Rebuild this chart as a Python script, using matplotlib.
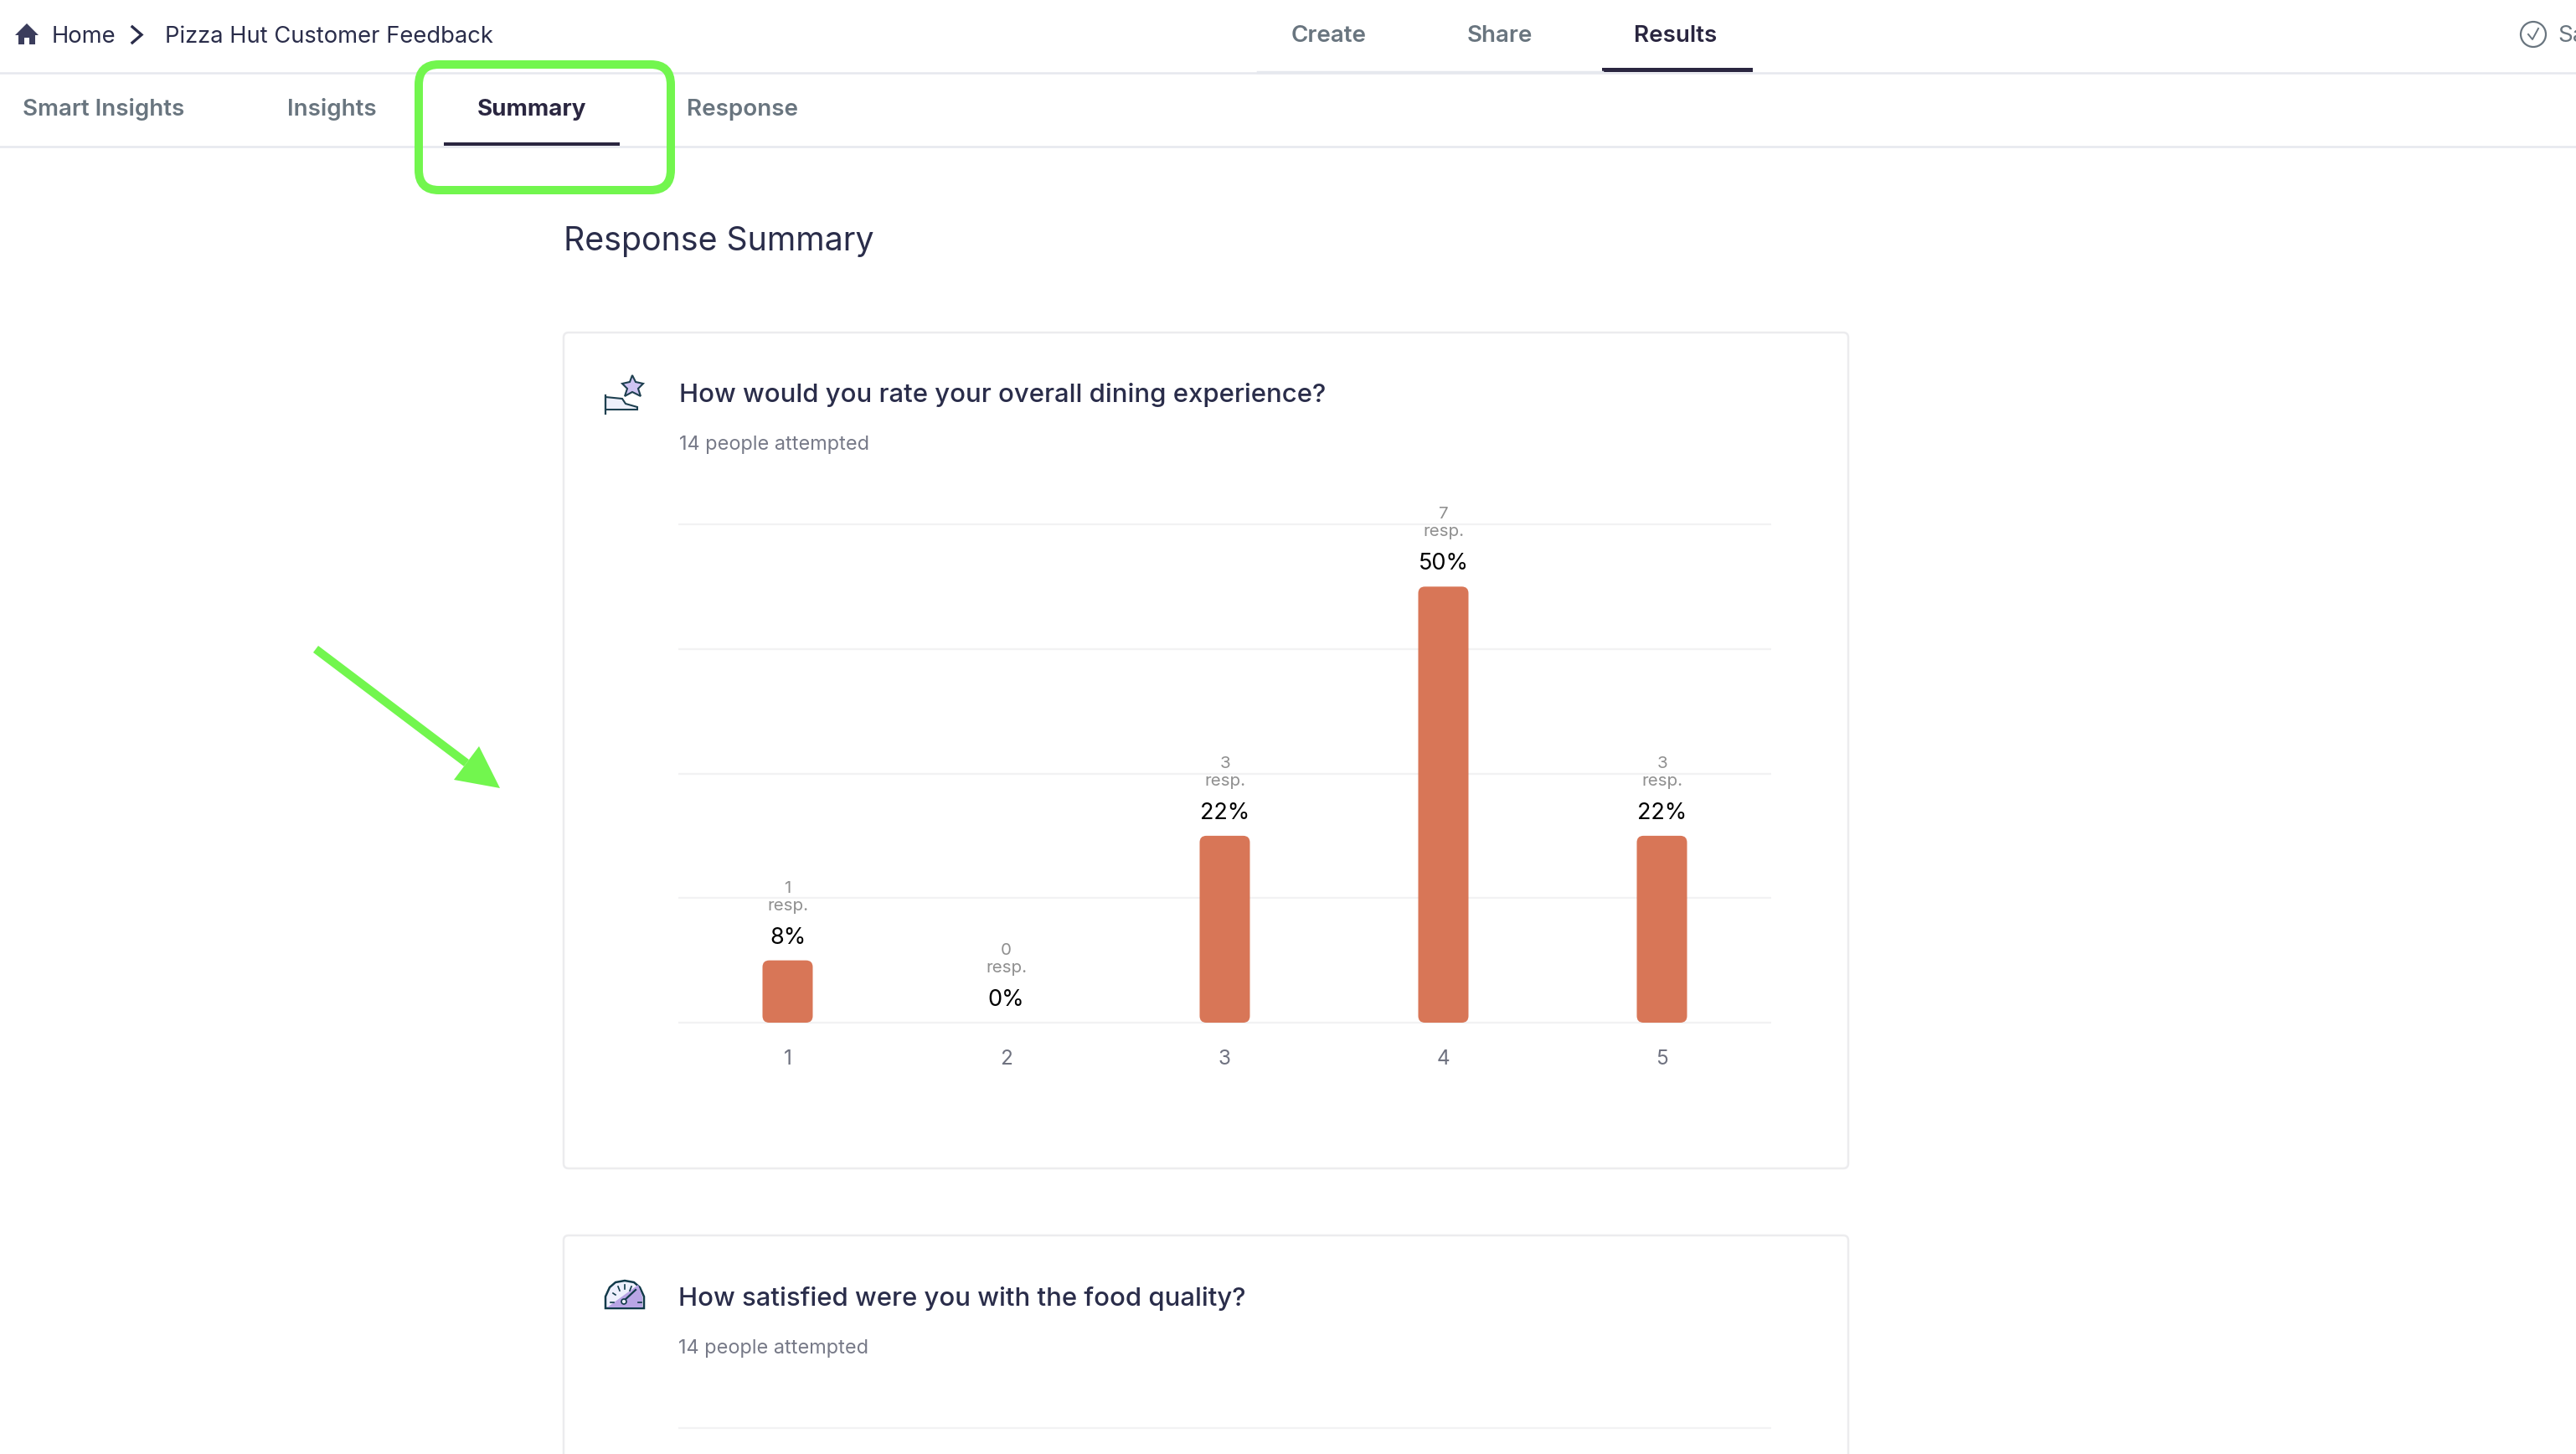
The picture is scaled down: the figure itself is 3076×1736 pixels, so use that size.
import matplotlib
matplotlib.use('Agg')
import matplotlib.pyplot as plt
from matplotlib.patches import FancyBboxPatch, Polygon, Ellipse, Rectangle

plt.rcParams['font.family'] = ['Inter', 'DejaVu Sans']

# Chart values
ratings = ['1', '2', '3', '4', '5']
responses = [1, 0, 3, 7, 3]
percents = ['8%', '0%', '22%', '50%', '22%']
grid_values = [0, 2, 4, 6, 8]

W, H = 3076, 1736
GREEN = '#72f64e'
DARK = '#2a2d4a'
TAB_GREY = '#69757f'
ACTIVE = '#2a2640'
LINE = '#e6e8ee'
BAR = '#d87657'
TAB_SIZE = 20

fig = plt.figure(figsize=(W / 100, H / 100), dpi=100, facecolor='white')

# Overlay in pixel coordinates for the page chrome
ui = fig.add_axes([0, 0, 1, 1], zorder=1)
ui.set_xlim(0, W)
ui.set_ylim(H, 0)
ui.axis('off')


def label(x, y, s, size, color, weight='normal', ha='left'):
    ui.text(x, y, s, fontsize=size, color=color, fontweight=weight, ha=ha, va='baseline')


# --- Header ---
ui.add_patch(Polygon([(32, 28), (46, 42), (42, 42), (42, 53), (35, 53), (35, 45), (29, 45), (29, 53),
                      (22, 53), (22, 42), (18, 42)], closed=True, color='#3b3d5c', lw=0))
label(62, 51, 'Home', 19.7, DARK)
ui.plot([158, 169, 158], [32, 41.5, 51], color=DARK, lw=2.4, solid_joinstyle='miter')
label(197, 51, 'Pizza Hut Customer Feedback', 19.7, DARK)

label(1542, 50, 'Create', TAB_SIZE, TAB_GREY, 'semibold')
label(1752, 50, 'Share', TAB_SIZE, TAB_GREY, 'semibold')
label(1951, 50, 'Results', TAB_SIZE, ACTIVE, 'semibold')
ui.plot([0, W], [87, 87], color=LINE, lw=1.8)
ui.plot([1502, 1913], [86, 86], color=LINE, lw=2.5)
ui.add_patch(Rectangle((1913, 81), 180, 5, color=ACTIVE, lw=0))

ui.add_patch(Ellipse((3025, 41), 30, 30, fc='none', ec=TAB_GREY, lw=1.6))
ui.plot([3019, 3024, 3031], [41, 47, 34], color=TAB_GREY, lw=1.4)
label(3054, 50, 'Saved', TAB_SIZE, TAB_GREY)

# --- Sub tabs ---
label(27, 138, 'Smart Insights', TAB_SIZE, TAB_GREY, 'semibold')
label(343, 138, 'Insights', TAB_SIZE, TAB_GREY, 'semibold')
label(570, 138, 'Summary', TAB_SIZE, ACTIVE, 'bold')
label(820, 138, 'Response', TAB_SIZE, TAB_GREY, 'semibold')
ui.plot([0, W], [175, 175], color=LINE, lw=1.8)
ui.add_patch(Rectangle((530, 170), 210, 4, color=ACTIVE, lw=0))

ui.add_patch(FancyBboxPatch((500, 77), 301, 150, boxstyle='round,pad=0,rounding_size=24',
                            fc='none', ec=GREEN, lw=7.2, zorder=5))

label(673, 299, 'Response Summary', 28.3, DARK)

# --- Cards ---
for top, bottom in [(397, 1395), (1475, 1800)]:
    ui.add_patch(FancyBboxPatch((673, top), 1534, bottom - top, boxstyle='round,pad=0,rounding_size=6',
                                fc='white', ec='#ececee', lw=1.8, zorder=0.5))

label(811, 480, 'How would you rate your overall dining experience?', 22.4, DARK, 'medium')
label(811, 537, '14 people attempted', 16.9, '#777a88')
label(810, 1559, 'How satisfied were you with the food quality?', 22.4, DARK, 'medium')
label(810, 1616, '14 people attempted', 16.9, '#777a88')
ui.plot([810, 2115], [1705, 1705], color='#f2f2f3', lw=1.6, solid_capstyle='butt')

# Star and hand icon
ICON = '#1e4050'
ui.add_patch(Polygon([(755, 448), (759, 456), (768, 458), (762, 464), (765, 473), (755, 468), (746, 473),
                      (749, 464), (743, 458), (752, 456)], closed=True, fc='#cfc4f2', ec=ICON, lw=1.5))
ui.add_patch(Polygon([(723, 474), (743, 476), (747, 482), (761, 486), (761, 489), (723, 489)], closed=True,
                     fc='#eef0fb', ec=ICON, lw=1.5))
ui.plot([723, 723], [472, 494], color=ICON, lw=1.6)

# Gauge icon
ui.add_patch(Polygon([(723, 1562), (723, 1548), (728, 1537), (735, 1531), (746, 1529), (757, 1531), (764, 1537),
                      (769, 1548), (769, 1562)], closed=True, fc='#eef0fd', ec='#123a4a', lw=1.8))
ui.add_patch(Polygon([(725, 1561), (762, 1534), (767, 1548), (767, 1561)], closed=True, fc='#b9a5e5', lw=0))
ui.plot([745, 759], [1553, 1540], color='#123a4a', lw=1.6)
ui.add_patch(Ellipse((745, 1554), 6, 6, fc='#eef0fd', ec='#123a4a', lw=1.2, zorder=3))
for x0, y0, x1, y1 in [(729, 1555, 733, 1555), (732, 1544, 735, 1546), (738, 1536, 740, 1541), (746, 1534, 746, 1539),
                       (754, 1536, 752, 1541), (762, 1555, 766, 1555)]:
    ui.plot([x0, x1], [y0, y1], color='#123a4a', lw=1.2)

# Green arrow
ui.plot([377, 557], [775, 911], color=GREEN, lw=7.2, solid_capstyle='butt', zorder=5)
ui.add_patch(Polygon([(597, 941), (572, 891), (542, 931)], closed=True, color=GREEN, lw=0, zorder=5))

# --- Bar chart ---
AX_L, AX_R, AX_T, AX_B = 810, 2115, 626, 1221
ax = fig.add_axes([AX_L / W, 1 - AX_B / H, (AX_R - AX_L) / W, (AX_B - AX_T) / H], zorder=2)
ax.patch.set_visible(False)
for spine in ax.spines.values():
    spine.set_visible(False)

positions = range(len(ratings))
ax.set_xlim(-0.5, 4.5)
ax.set_ylim(0, 8)
ax.set_yticks(grid_values)
ax.set_yticklabels([])
ax.grid(True, axis='y', color='#f2f2f3', linewidth=1.6, clip_on=False, solid_capstyle='butt')
ax.set_axisbelow(True)
ax.tick_params(length=0)
ax.set_xticks(list(positions))
ax.set_xticklabels(ratings, fontsize=17.5, color='#6f7280')
ax.tick_params(axis='x', pad=23)

# Rounded bars, the aspect keeps the corners circular on screen
x_unit = (AX_R - AX_L) / 5
y_unit = (AX_B - AX_T) / 8
bar_width = 60 / x_unit
for pos, count, pct in zip(positions, responses, percents):
    if count > 0:
        ax.add_patch(FancyBboxPatch((pos - bar_width / 2, 0), bar_width, count,
                                    boxstyle=f'round,pad=0,rounding_size={8 / x_unit}',
                                    mutation_aspect=x_unit / y_unit, fc=BAR, ec='none', zorder=3))
    ax.annotate(pct, (pos, count), xytext=(0, 20 * 0.72), textcoords='offset points',
                ha='center', va='baseline', fontsize=19.5, color='black')
    ax.annotate('resp.', (pos, count), xytext=(0, 60 * 0.72), textcoords='offset points',
                ha='center', va='baseline', fontsize=14.8, color='#8f8f8f')
    ax.annotate(str(count), (pos, count), xytext=(0, 81 * 0.72), textcoords='offset points',
                ha='center', va='baseline', fontsize=14.8, color='#8f8f8f')

fig.savefig('out.png', dpi=100)
